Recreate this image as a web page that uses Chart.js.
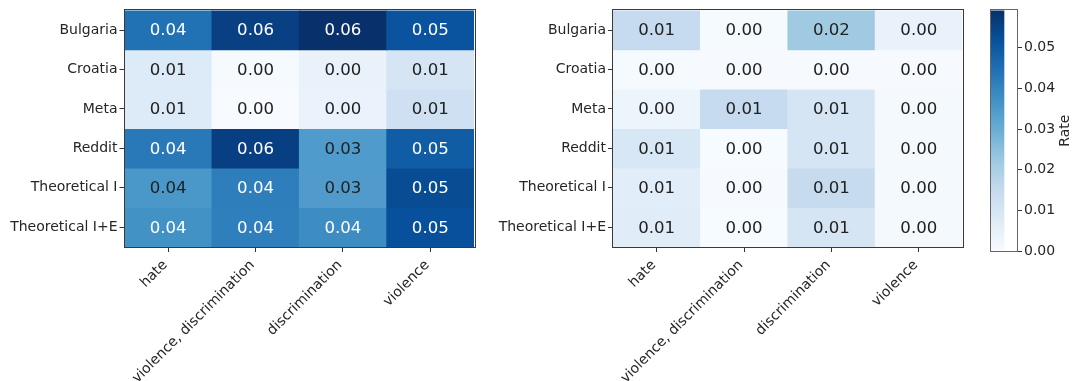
<!DOCTYPE html>
<html>
<head>
<meta charset="utf-8">
<script src="https://cdn.jsdelivr.net/npm/chart.js@4.4.1/dist/chart.umd.min.js"></script>
<style>
  html, body { margin: 0; padding: 0; background: #ffffff; }
  #wrap { position: relative; width: 1076px; height: 381px; overflow: hidden; }
  #wrap canvas { position: absolute; left: 0; top: 0; }
</style>
</head>
<body>
<div id="wrap">
  <canvas id="leftMap" width="1076" height="381"></canvas>
  <canvas id="rightMap" width="1076" height="381"></canvas>
  <canvas id="colorBar" width="1076" height="381"></canvas>
</div>
<script>
// Row and column categories shared by both heatmaps
const ROWS = ['Bulgaria', 'Croatia', 'Meta', 'Reddit', 'Theoretical I', 'Theoretical I+E'];
const COLUMNS = ['hate', 'violence, discrimination', 'discrimination', 'violence'];

// Rates per row (columns in COLUMNS order)
const LEFT_RATES = [
  [0.0445, 0.0556, 0.0592, 0.0513],
  [0.0077, 0.0006, 0.0040, 0.0100],
  [0.0078, 0.0000, 0.0039, 0.0124],
  [0.0427, 0.0558, 0.0347, 0.0490],
  [0.0356, 0.0415, 0.0345, 0.0530],
  [0.0370, 0.0412, 0.0382, 0.0520]
];
const RIGHT_RATES = [
  [0.0148, 0.0005, 0.0220, 0.0040],
  [0.0005, 0.0003, 0.0004, 0.0003],
  [0.0030, 0.0148, 0.0100, 0.0010],
  [0.0093, 0.0002, 0.0101, 0.0010],
  [0.0066, 0.0003, 0.0146, 0.0010],
  [0.0068, 0.0002, 0.0102, 0.0008]
];

// Colour scale
const VMAX = 0.0592;
const COLORBAR_TICKS = [0.00, 0.01, 0.02, 0.03, 0.04, 0.05];
const TEXT_THRESHOLD = 0.036;
const BLUES = ['#f7fbff', '#deebf7', '#c6dbef', '#9ecae1', '#6baed6', '#4292c6', '#2171b5', '#08519c', '#08306b'];

const FONT = '"DejaVu Sans", Verdana, sans-serif';
Chart.defaults.font.family = FONT;
Chart.defaults.color = '#262626';

function hexToRgb(h) {
  return [parseInt(h.slice(1, 3), 16), parseInt(h.slice(3, 5), 16), parseInt(h.slice(5, 7), 16)];
}
function blues(t) {
  t = Math.max(0, Math.min(1, t));
  const p = t * (BLUES.length - 1);
  const i = Math.min(Math.floor(p), BLUES.length - 2);
  const f = p - i;
  const a = hexToRgb(BLUES[i]), b = hexToRgb(BLUES[i + 1]);
  const c = a.map((v, k) => Math.round(v + (b[k] - v) * f));
  return `rgb(${c[0]}, ${c[1]}, ${c[2]})`;
}

// Layout of the plot areas
const CANVAS_W = 1076, CANVAS_H = 381;
const AREA_TOP = 9, AREA_BOTTOM = 247;
const Y_AXIS_WIDTH = 124;
const TICK_FONT = { family: FONT, size: 14 };

// Writes the formatted rate in the middle of each cell
const cellLabels = {
  id: 'cellLabels',
  afterDatasetsDraw(chart) {
    const c = chart.ctx;
    c.save();
    c.font = `16.6px ${FONT}`;
    c.textAlign = 'center';
    c.textBaseline = 'middle';
    chart.data.datasets.forEach((ds, r) => {
      chart.getDatasetMeta(r).data.forEach((bar, k) => {
        const v = ds.rates[k];
        const p = bar.getCenterPoint();
        c.fillStyle = v > TEXT_THRESHOLD ? '#ffffff' : '#222222';
        c.fillText(v.toFixed(2), p.x, p.y + 1);
      });
    });
    c.restore();
  }
};

// Thin frame round the plot area
const frame = {
  id: 'frame',
  afterDraw(chart, args, opts) {
    const a = chart.chartArea;
    const c = chart.ctx;
    c.save();
    c.strokeStyle = opts.color || '#333333';
    c.lineWidth = 1;
    c.strokeRect(Math.round(a.left) - 0.5, Math.round(a.top) - 0.5,
                 Math.round(a.right - a.left) + 1, Math.round(a.bottom - a.top) + 1);
    c.restore();
  }
};

function heatmap(id, rates, areaLeft, areaRight) {
  return new Chart(document.getElementById(id), {
    type: 'bar',
    data: {
      labels: COLUMNS,
      datasets: ROWS.map((row, r) => ({
        label: row,
        rates: rates[r],
        data: COLUMNS.map(() => [r, r + 1]),
        backgroundColor: rates[r].map(v => blues(v / VMAX)),
        borderWidth: 0,
        barPercentage: 1,
        categoryPercentage: 1,
        grouped: false
      }))
    },
    options: {
      responsive: false,
      animation: false,
      devicePixelRatio: 1,
      events: [],
      layout: {
        padding: { left: areaLeft - Y_AXIS_WIDTH, right: CANVAS_W - areaRight, top: AREA_TOP, bottom: 0 }
      },
      plugins: {
        legend: { display: false },
        tooltip: { enabled: false },
        frame: { color: '#3a3a3a' }
      },
      scales: {
        x: {
          type: 'category',
          offset: true,
          afterFit: s => { s.height = CANVAS_H - AREA_BOTTOM; },
          border: { display: false },
          grid: { offset: false, drawOnChartArea: false, drawTicks: true, tickLength: 5, tickColor: '#333333' },
          ticks: { autoSkip: false, minRotation: 45, maxRotation: 45, padding: 5, labelOffset: -3, color: '#262626', font: TICK_FONT }
        },
        y: {
          type: 'linear',
          min: 0,
          max: ROWS.length,
          reverse: true,
          afterFit: s => { s.width = Y_AXIS_WIDTH; },
          afterBuildTicks: s => { s.ticks = ROWS.map((_, i) => ({ value: i + 0.5 })); },
          border: { display: false },
          grid: { drawOnChartArea: false, drawTicks: true, tickLength: 5, tickColor: '#333333' },
          ticks: { callback: v => ROWS[Math.floor(v)], padding: 2, color: '#262626', font: TICK_FONT }
        }
      }
    },
    plugins: [cellLabels, frame]
  });
}

heatmap('leftMap', LEFT_RATES, 124.5, 474);
heatmap('rightMap', RIGHT_RATES, 613, 962.5);

// Colour bar
const CB_LEFT = 991, CB_RIGHT = 1017, CB_TOP = 7.3, CB_BOTTOM = 251;

const barTitle = {
  id: 'barTitle',
  afterDraw(chart) {
    const a = chart.chartArea;
    const c = chart.ctx;
    c.save();
    c.font = `14px ${FONT}`;
    c.fillStyle = '#262626';
    c.textAlign = 'center';
    c.textBaseline = 'middle';
    c.translate(1065, (a.top + a.bottom) / 2);
    c.rotate(-Math.PI / 2);
    c.fillText('Rate', 0, 0);
    c.restore();
  }
};

new Chart(document.getElementById('colorBar'), {
  type: 'bar',
  data: {
    labels: ['Rate'],
    datasets: [{
      data: [[0, VMAX]],
      borderWidth: 0,
      barPercentage: 1,
      categoryPercentage: 1,
      backgroundColor: (context) => {
        const chart = context.chart;
        if (!chart.chartArea) return BLUES[0];
        const y = chart.scales.y;
        const g = chart.ctx.createLinearGradient(0, y.getPixelForValue(0), 0, y.getPixelForValue(VMAX));
        BLUES.forEach((col, i) => g.addColorStop(i / (BLUES.length - 1), col));
        return g;
      }
    }]
  },
  options: {
    responsive: false,
    animation: false,
    devicePixelRatio: 1,
    events: [],
    layout: {
      padding: { left: CB_LEFT, right: 0, top: CB_TOP, bottom: CANVAS_H - CB_BOTTOM }
    },
    plugins: {
      legend: { display: false },
      tooltip: { enabled: false },
      frame: { color: '#666666' }
    },
    scales: {
      x: { display: false, offset: false },
      y: {
        position: 'right',
        min: 0,
        max: VMAX,
        afterFit: s => { s.width = CANVAS_W - CB_RIGHT; },
        afterBuildTicks: s => { s.ticks = COLORBAR_TICKS.map(v => ({ value: v })); },
        border: { display: false },
        grid: { drawOnChartArea: false, drawTicks: true, tickLength: 5, tickColor: '#333333' },
        ticks: { callback: v => v.toFixed(2), padding: 2, color: '#262626', font: TICK_FONT }
      }
    }
  },
  plugins: [frame, barTitle]
});
</script>
</body>
</html>
